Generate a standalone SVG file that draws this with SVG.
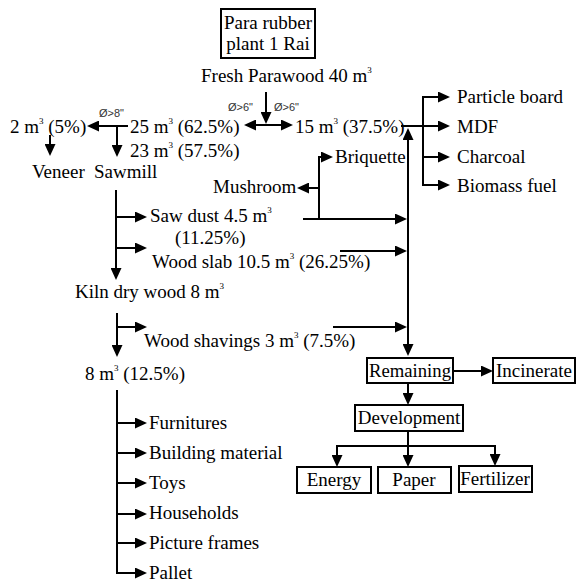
<svg xmlns="http://www.w3.org/2000/svg" width="579" height="584" viewBox="0 0 579 584">
<style>
text{font-family:"Liberation Serif","Times New Roman",serif;font-size:19px;fill:#000}
.sup{font-size:9px}
.dia{font-family:"Liberation Sans",Arial,sans-serif;font-size:11px;fill:#333}
.box{fill:#fff;stroke:#000;stroke-width:2}
.c line,.c path{stroke:#000;stroke-width:2;fill:none}
.a{marker-end:url(#ah)}
.b{marker-start:url(#ah);marker-end:url(#ah)}
</style>
<defs>
<marker id="ah" viewBox="0 0 12 11" refX="10" refY="5.5" markerWidth="12" markerHeight="11" markerUnits="userSpaceOnUse" orient="auto-start-reverse">
<path d="M0,0 L12,5.5 L0,11 z" fill="#000"/>
</marker>
</defs>
<rect width="579" height="584" fill="#fff"/>

<g class="c" id="connectors">
<line class="a" x1="266" y1="92" x2="266" y2="122"/>
<line class="b" x1="246" y1="125" x2="291" y2="125"/>
<line class="a" x1="128" y1="126" x2="89" y2="126"/>
<line class="a" x1="117" y1="126" x2="117" y2="155"/>
<line class="a" x1="50" y1="135" x2="50" y2="154"/>
<line class="a" x1="116" y1="190" x2="116" y2="278"/>
<line class="a" x1="116" y1="217" x2="145" y2="217"/>
<line class="a" x1="116" y1="248" x2="145" y2="248"/>
<line class="a" x1="117" y1="313" x2="117" y2="355"/>
<line class="a" x1="117" y1="327" x2="145" y2="327"/>
<path class="a" d="M117 390 V573 H145"/>
<line class="a" x1="117" y1="423" x2="145" y2="423"/>
<line class="a" x1="117" y1="453" x2="145" y2="453"/>
<line class="a" x1="117" y1="483" x2="145" y2="483"/>
<line class="a" x1="117" y1="514" x2="145" y2="514"/>
<line class="a" x1="117" y1="543" x2="145" y2="543"/>
<line class="b" x1="408" y1="130" x2="408" y2="354"/>
<line class="a" x1="303" y1="219" x2="405" y2="219"/>
<path class="a" d="M319 219 V157 H331"/>
<line class="a" x1="319" y1="188" x2="299" y2="188"/>
<line class="a" x1="340" y1="251" x2="405" y2="251"/>
<line class="a" x1="333" y1="327" x2="405" y2="327"/>
<line class="a" x1="401" y1="126" x2="448" y2="126"/>
<line x1="423" y1="96" x2="423" y2="186"/>
<line class="a" x1="422" y1="97" x2="448" y2="97"/>
<line class="a" x1="423" y1="157" x2="448" y2="157"/>
<line class="a" x1="422" y1="185" x2="448" y2="185"/>
<line class="a" x1="453" y1="371" x2="491" y2="371"/>
<line class="a" x1="408" y1="383" x2="408" y2="403"/>
<line x1="408" y1="431" x2="408" y2="446"/>
<line x1="336" y1="446" x2="496" y2="446"/>
<line class="a" x1="337" y1="445" x2="337" y2="465"/>
<line class="a" x1="408" y1="445" x2="408" y2="465"/>
<line class="a" x1="495" y1="445" x2="495" y2="464"/>
</g>

<g id="para-rubber">
<rect class="box" x="221" y="9" width="94" height="49"/>
<text x="268" y="29" text-anchor="middle">Para rubber</text>
<text x="268" y="50" text-anchor="middle">plant 1 Rai</text>
</g>
<g id="fresh-parawood"><text x="201" y="82">Fresh Parawood 40 m<tspan class="sup" dy="-9">3</tspan></text></g>
<g id="dia-labels">
<text class="dia" x="228" y="111">Ø&gt;6"</text>
<text class="dia" x="274" y="111">Ø&gt;6"</text>
<text class="dia" x="99" y="117">Ø&gt;8"</text>
</g>
<g id="n25"><text x="130" y="133">25 m<tspan class="sup" dy="-9">3</tspan><tspan dy="9"> (62.5%)</tspan></text></g>
<g id="n2"><text x="10" y="133">2 m<tspan class="sup" dy="-9">3</tspan><tspan dy="9"> (5%)</tspan></text></g>
<g id="n15"><text x="295" y="133">15 m<tspan class="sup" dy="-9">3</tspan><tspan dy="9"> (37.5%)</tspan></text></g>
<g id="n23"><text x="130" y="157">23 m<tspan class="sup" dy="-9">3</tspan><tspan dy="9"> (57.5%)</tspan></text></g>
<g id="veneer"><text x="32" y="178">Veneer</text></g>
<g id="sawmill"><text x="94" y="178">Sawmill</text></g>
<g id="particle-board"><text x="457" y="103">Particle board</text></g>
<g id="mdf"><text x="457" y="133">MDF</text></g>
<g id="charcoal"><text x="457" y="163">Charcoal</text></g>
<g id="biomass-fuel"><text x="457" y="192">Biomass fuel</text></g>
<g id="briquette"><text x="335" y="163">Briquette</text></g>
<g id="mushroom"><text x="213" y="193">Mushroom</text></g>
<g id="saw-dust"><text x="150" y="222">Saw dust 4.5 m<tspan class="sup" dy="-9">3</tspan></text><text x="175" y="244">(11.25%)</text></g>
<g id="wood-slab"><text x="152" y="268">Wood slab 10.5 m<tspan class="sup" dy="-9">3</tspan><tspan dy="9"> (26.25%)</tspan></text></g>
<g id="kiln"><text x="75" y="298">Kiln dry wood 8 m<tspan class="sup" dy="-9">3</tspan></text></g>
<g id="shavings"><text x="144" y="347">Wood shavings 3 m<tspan class="sup" dy="-9">3</tspan><tspan dy="9"> (7.5%)</tspan></text></g>
<g id="n8"><text x="85" y="380">8 m<tspan class="sup" dy="-9">3</tspan><tspan dy="9"> (12.5%)</tspan></text></g>
<g id="furnitures"><text x="149" y="429">Furnitures</text></g>
<g id="building"><text x="149" y="459">Building material</text></g>
<g id="toys"><text x="149" y="489">Toys</text></g>
<g id="households"><text x="149" y="519">Households</text></g>
<g id="picture-frames"><text x="149" y="549">Picture frames</text></g>
<g id="pallet"><text x="149" y="579">Pallet</text></g>
<g id="remaining"><rect class="box" x="367" y="358" width="86" height="25"/><text x="410" y="377" text-anchor="middle" textLength="82" lengthAdjust="spacingAndGlyphs">Remaining</text></g>
<g id="incinerate"><rect class="box" x="493" y="358" width="82" height="25"/><text x="534" y="377" text-anchor="middle">Incinerate</text></g>
<g id="development"><rect class="box" x="355" y="405" width="108" height="26"/><text x="409" y="424" text-anchor="middle">Development</text></g>
<g id="energy"><rect class="box" x="297" y="467" width="74" height="26"/><text x="334" y="486" text-anchor="middle">Energy</text></g>
<g id="paper"><rect class="box" x="378" y="467" width="73" height="26"/><text x="414" y="486" text-anchor="middle">Paper</text></g>
<g id="fertilizer"><rect class="box" x="459" y="466" width="73" height="26"/><text x="495" y="485" text-anchor="middle">Fertilizer</text></g>
</svg>
